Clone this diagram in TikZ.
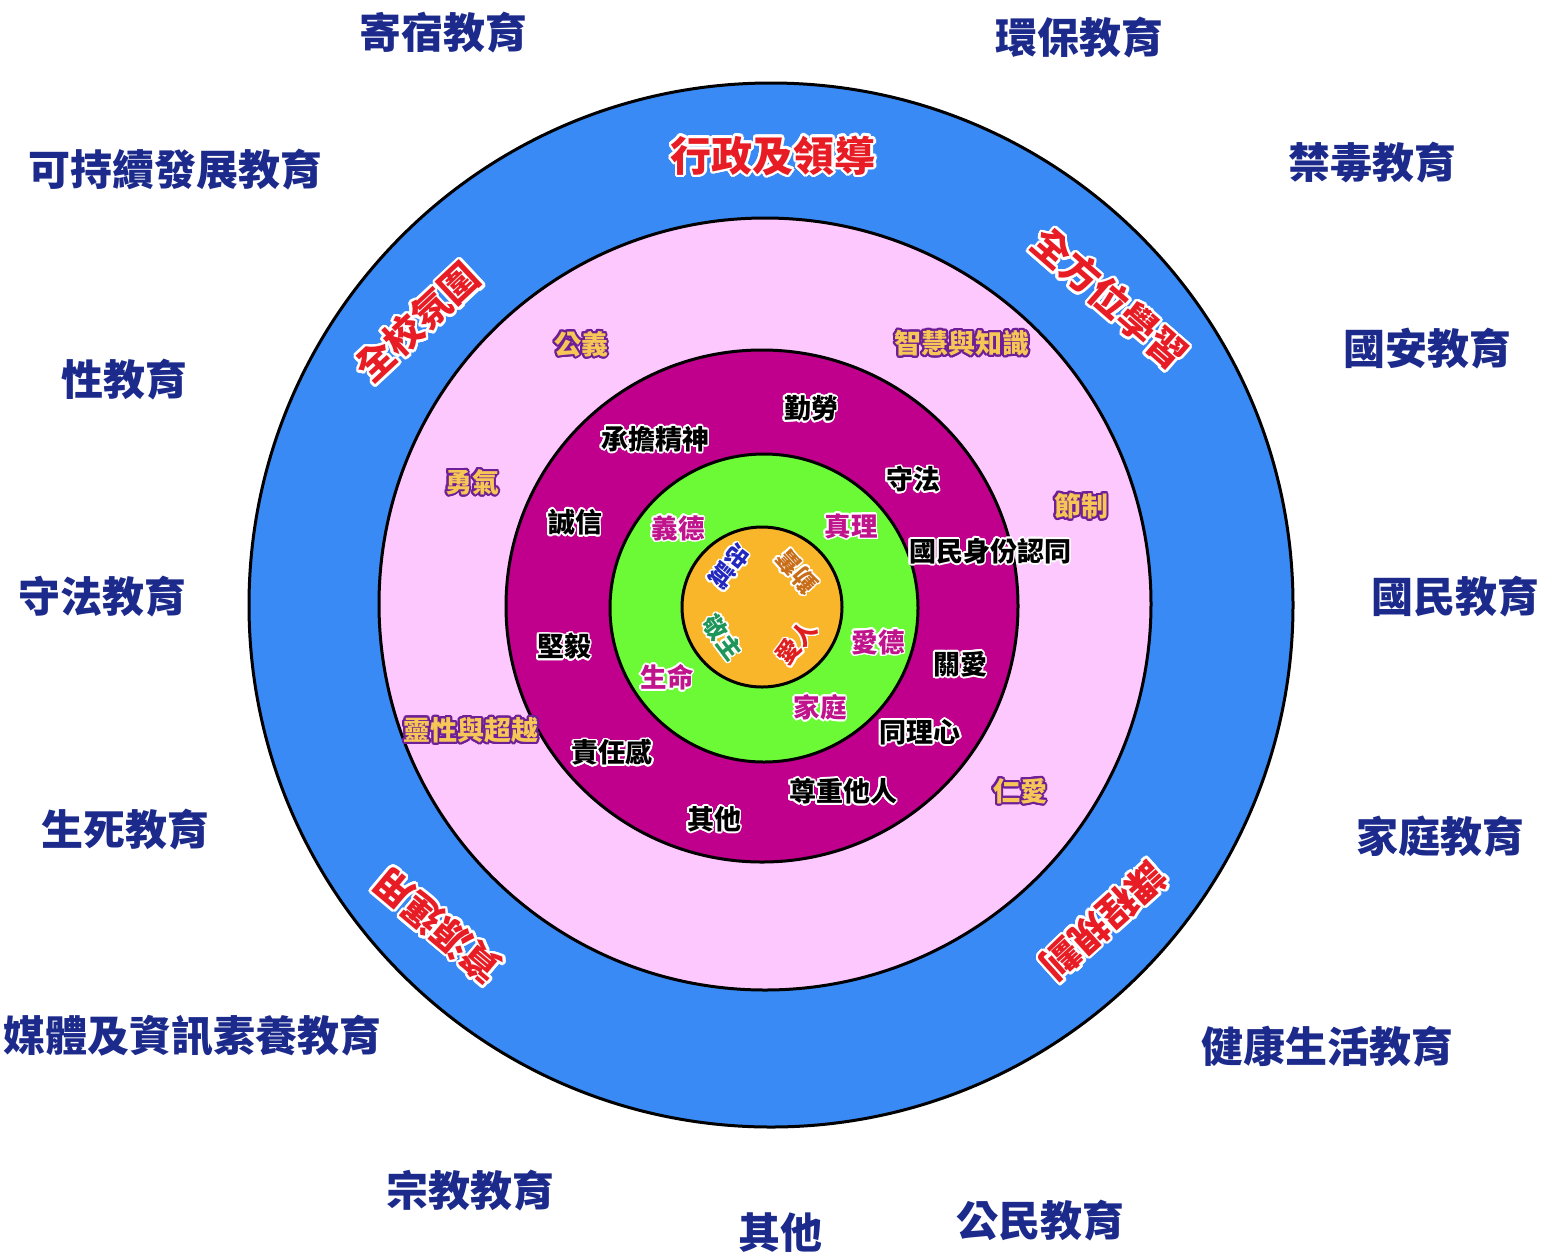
\documentclass[tikz,border=0pt]{standalone}
\usepackage{fontspec}
\setmainfont{Noto Sans CJK TC}
\usepackage[copies]{contour}
\contournumber{24}
\definecolor{ringblue}{RGB}{58,138,245}
\definecolor{ringpink}{RGB}{253,200,253}
\definecolor{ringmag}{RGB}{192,0,141}
\definecolor{ringgreen}{RGB}{108,250,55}
\definecolor{ringorange}{RGB}{250,182,42}
\definecolor{navy}{RGB}{28,42,140}
\definecolor{lblred}{RGB}{232,28,36}
\definecolor{valmag}{RGB}{192,20,140}
\definecolor{virfill}{RGB}{246,198,86}
\definecolor{virline}{RGB}{110,30,150}
\definecolor{cgreen}{RGB}{30,150,90}
\definecolor{cblue}{RGB}{35,40,190}
\definecolor{corange}{RGB}{200,110,25}
\definecolor{cred}{RGB}{225,30,30}
\newcommand{\wol}[1]{\contour{white}{#1}}
\newcommand{\pol}[1]{\contour{virline}{#1}}
\tikzset{
  ring/.style={draw=black, line width=3pt},
  outerlbl/.style={inner sep=0pt, text=navy, font=\fontsize{42}{42}\selectfont\bfseries},
  redlbl/.style={inner sep=0pt, text=lblred, font=\fontsize{38}{38}\selectfont\bfseries\contourlength{2.5pt}},
  toplbl/.style={inner sep=0pt, text=lblred, font=\fontsize{41}{41}\selectfont\bfseries\contourlength{2.5pt}},
  virtue/.style={inner sep=0pt, text=virfill, font=\fontsize{27}{27}\selectfont\bfseries\contourlength{2pt}},
  value/.style={inner sep=0pt, text=black, font=\fontsize{27}{27}\selectfont\bfseries\contourlength{1.6pt}},
  core/.style={inner sep=0pt, text=valmag, font=\fontsize{26.5}{26.5}\selectfont\bfseries\contourlength{1.6pt}},
  centre/.style={inner sep=0pt, font=\fontsize{24}{24}\selectfont\bfseries\contourlength{1.6pt}}
}
\begin{document}
\begin{tikzpicture}[x=1pt,y=-1pt]
\useasboundingbox (0,0) rectangle (1542,1254);
\fill[white] (0,0) rectangle (1542,1254);
% rings
\draw[ring, fill=ringblue] (771,605) circle[radius=522];
\draw[ring, fill=ringpink] (765,604) circle[radius=386];
\draw[ring, fill=ringmag] (762,606) circle[radius=256];
\draw[ring, fill=ringgreen] (764,608) circle[radius=154];
\draw[ring, fill=ringorange] (762,607) circle[radius=80];
% outer labels
\node[outerlbl] (o1) at (443,33) {寄宿教育};
\node[outerlbl] (o2) at (1079,38) {環保教育};
\node[outerlbl] (o3) at (175,170) {可持續發展教育};
\node[outerlbl] (o4) at (1372,163) {禁毒教育};
\node[outerlbl] (o5) at (124,380) {性教育};
\node[outerlbl] (o6) at (1427,349) {國安教育};
\node[outerlbl] (o7) at (103,597) {守法教育};
\node[outerlbl] (o8) at (1455,597) {國民教育};
\node[outerlbl] (o9) at (125,830) {生死教育};
\node[outerlbl] (o10) at (1440,836) {家庭教育};
\node[outerlbl] (o11) at (193,1036) {媒體及資訊素養教育};
\node[outerlbl] (o12) at (1327,1047) {健康生活教育};
\node[outerlbl] (o13) at (470,1191) {宗教教育};
\node[outerlbl] (o14) at (780,1233) {其他};
\node[outerlbl] (o15) at (1040,1221) {公民教育};
% blue ring labels
\node[toplbl] (b1) at (773,157) {\wol{行政及領導}};
\node[redlbl, rotate=43] (b2) at (418,323) {\wol{全校氛圍}};
\node[redlbl, rotate=-41] (b3) at (1109,299) {\wol{全方位學習}};
\node[redlbl, rotate=140] (b4) at (438,925) {\wol{資源運用}};
\node[redlbl, rotate=-138] (b5) at (1103,920) {\wol{課程規劃}};
% pink ring labels
\node[virtue] (p1) at (581,345) {\pol{公義}};
\node[virtue] (p2) at (962,344) {\pol{智慧與知識}};
\node[virtue] (p3) at (472,483) {\pol{勇氣}};
\node[virtue] (p4) at (1081,507) {\pol{節制}};
\node[virtue] (p5) at (471,731) {\pol{靈性與超越}};
\node[virtue] (p6) at (1020,792) {\pol{仁愛}};
% magenta ring labels
\node[value] (m1) at (811,409) {\wol{勤勞}};
\node[value] (m2) at (655,440) {\wol{承擔精神}};
\node[value] (m3) at (913,480) {\wol{守法}};
\node[value] (m4) at (575,523) {\wol{誠信}};
\node[value] (m5) at (990,552) {\wol{國民身份認同}};
\node[value] (m6) at (564,647) {\wol{堅毅}};
\node[value] (m7) at (960,665) {\wol{關愛}};
\node[value] (m8) at (920,733) {\wol{同理心}};
\node[value] (m9) at (612,753) {\wol{責任感}};
\node[value] (m10) at (843,792) {\wol{尊重他人}};
\node[value] (m11) at (714,820) {\wol{其他}};
% green ring labels
\node[core] (g1) at (678,529) {\wol{義德}};
\node[core] (g2) at (851,527) {\wol{真理}};
\node[core] (g3) at (878,643) {\wol{愛德}};
\node[core] (g4) at (820,708) {\wol{家庭}};
\node[core] (g5) at (667,678) {\wol{生命}};
% centre
\node[centre, text=cgreen, rotate=-53] (c1) at (722,638) {\wol{敬主}};
\node[centre, text=cred, rotate=50] (c2) at (797,643) {\wol{愛人}};
\node[centre, text=corange, rotate=132] (c3) at (797,571) {\wol{勤奮}};
\node[centre, text=cblue, rotate=-128] (c4) at (729,566) {\wol{忠誠}};
\end{tikzpicture}
\end{document}
